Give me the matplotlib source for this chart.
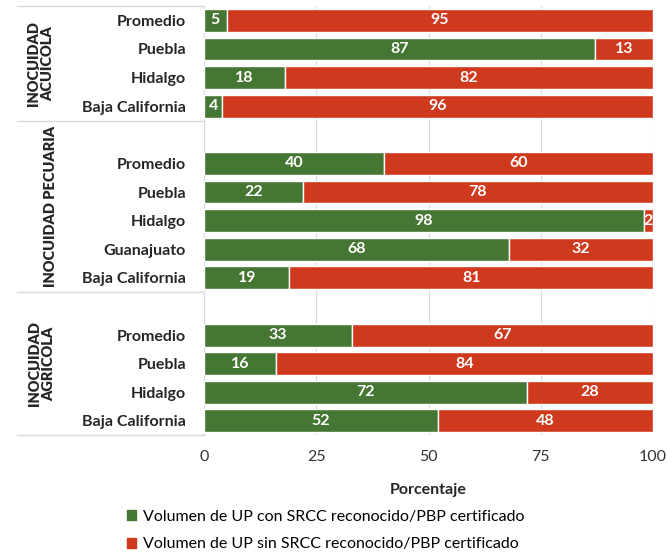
import matplotlib.pyplot as plt
import matplotlib.transforms as mtransforms
from matplotlib.patches import Patch

plt.rcParams['font.family'] = ['Lato', 'DejaVu Sans']

# datos por grupo (de arriba hacia abajo)
grupos = ['INOCUIDAD\nACUÍCOLA', 'INOCUIDAD PECUARIA', 'INOCUIDAD\nAGRÍCOLA']
acuicola_cat = ['Promedio', 'Puebla', 'Hidalgo', 'Baja California']
acuicola_con = [5, 87, 18, 4]
acuicola_sin = [95, 13, 82, 96]
pecuaria_cat = ['Promedio', 'Puebla', 'Hidalgo', 'Guanajuato', 'Baja California']
pecuaria_con = [40, 22, 98, 68, 19]
pecuaria_sin = [60, 78, 2, 32, 81]
agricola_cat = ['Promedio', 'Puebla', 'Hidalgo', 'Baja California']
agricola_con = [33, 16, 72, 52]
agricola_sin = [67, 84, 28, 48]

serie_con = 'Volumen de UP con SRCC reconocido/PBP certificado'
serie_sin = 'Volumen de UP sin SRCC reconocido/PBP certificado'
verde = '#467633'
rojo = '#cf3a1e'

# filas: el 2do y 3er grupo llevan una fila vacia arriba
cats, con, sin, pos = [], [], [], []
limites = [-0.5]
fila = 0
for g, (c, a, b) in enumerate([(acuicola_cat, acuicola_con, acuicola_sin),
                               (pecuaria_cat, pecuaria_con, pecuaria_sin),
                               (agricola_cat, agricola_con, agricola_sin)]):
    if g > 0:
        fila += 1
    for i in range(len(c)):
        cats.append(c[i]); con.append(a[i]); sin.append(b[i]); pos.append(fila)
        fila += 1
    limites.append(fila - 0.5)

fig = plt.figure(figsize=(6.67, 5.53), dpi=100)
ax = fig.add_axes([0.306, 0.213, 0.673, 0.776])

ax.barh(pos, con, height=0.8, color=verde, edgecolor='white', linewidth=1, zorder=3)
ax.barh(pos, sin, left=con, height=0.8, color=rojo, edgecolor='white', linewidth=1, zorder=3)

for p, a, b in zip(pos, con, sin):
    ax.text(a / 2, p, str(a), ha='center', va='center', color='white',
            fontsize=11.5, fontweight='bold', zorder=4)
    ax.text(a + b / 2, p, str(b), ha='center', va='center', color='white',
            fontsize=11.5, fontweight='bold', zorder=4, clip_on=True)

ax.set_xlim(0, 100)
ax.set_ylim(limites[-1], limites[0])
ax.set_xticks([0, 25, 50, 75, 100])
ax.set_yticks(pos)
ax.set_yticklabels(cats, fontsize=11.5, fontweight='bold', color='#262626')
ax.tick_params(axis='y', length=0, pad=13)
ax.tick_params(axis='x', length=0, pad=11, labelsize=11.5, labelcolor='#333333')
ax.grid(axis='x', color='#d9d9d9', linewidth=0.8, zorder=0)
for s in ['top', 'right', 'bottom']:
    ax.spines[s].set_visible(False)
ax.spines['left'].set_color('#d9d9d9')
ax.set_xlabel('Porcentaje', fontsize=11.5, fontweight='bold', labelpad=13, color='#262626')

# lineas separadoras y etiquetas de grupo
trans = mtransforms.blended_transform_factory(ax.transAxes, ax.transData)
for y in limites:
    ax.plot([-0.417, 0], [y, y], color='#d9d9d9', linewidth=1, transform=trans, clip_on=False)
gx = [-0.364, -0.343, -0.362]
for g in range(3):
    yc = (limites[g] + limites[g + 1]) / 2
    ax.text(gx[g], yc, grupos[g], rotation=90, ha='center', va='center',
            fontsize=10.5, fontweight='heavy', color='#262626', linespacing=1.05,
            transform=trans, multialignment='center')

handles = [Patch(color=verde), Patch(color=rojo)]
fig.legend(handles, [serie_con, serie_sin], loc='upper left', bbox_to_anchor=(0.19, 0.078),
           frameon=False, fontsize=11.5, handlelength=0.6, handleheight=0.6,
           handletextpad=0.4, labelspacing=0.85, borderaxespad=0, borderpad=0)

fig.savefig('out.png', dpi=100)
